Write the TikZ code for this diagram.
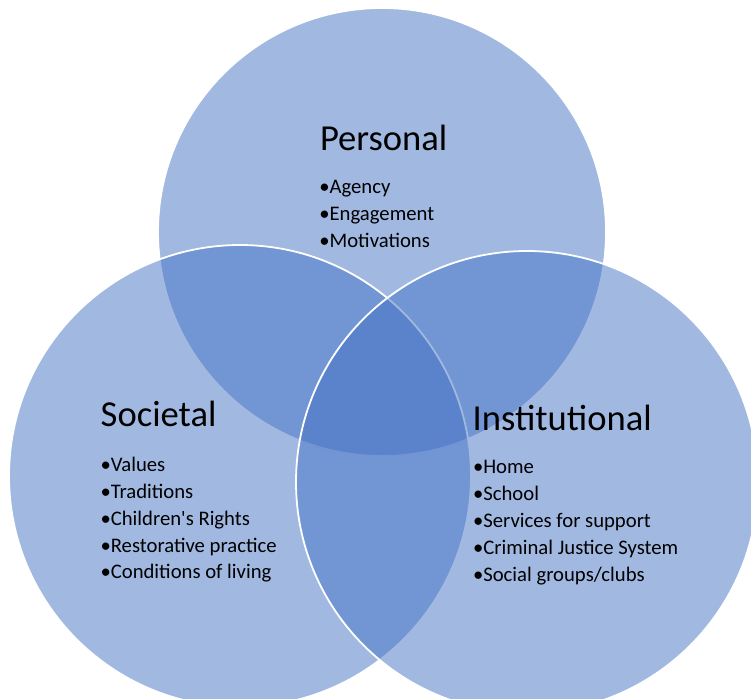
\documentclass[tikz,border=0pt]{standalone}
\usepackage{fontspec}
\setmainfont{Carlito}
\definecolor{vennblue}{HTML}{4472C4}

\begin{document}
\begin{tikzpicture}[x=1pt, y=-1pt]
\tikzstyle{every node} = [inner sep=0, outer sep=0]
\tikzstyle{venn} = [circle, draw=white, line width=1.8, fill=vennblue, fill opacity=0.5]
\tikzstyle{head} = [anchor=base west, font=\fontsize{36.6}{44}\selectfont]
\tikzstyle{item} = [anchor=base west, font=\fontsize{20.7}{25}\selectfont]
\clip (0,0) rectangle (751,698);
% circles, top first, then left, then right
\node[venn, minimum size=448] (personal) at (382.000, 232.000) {};
\node[venn, minimum size=462] (societal) at (240.000, 476.000) {};
\node[venn, minimum size=462] (institutional) at (527.000, 482.000) {};
% personal
\node[head] (personal_h) at (320.000, 150.000) {Personal};
\node[item] (personal_1) at (319.300, 193.500) {•Agency};
\node[item] (personal_2) at (319.300, 220.500) {•Engagement};
\node[item] (personal_3) at (319.300, 247.500) {•Motivations};
% societal
\node[head] (societal_h) at (100.700, 426.500) {Societal};
\node[item] (societal_1) at (100.500, 471.500) {•Values};
\node[item] (societal_2) at (100.500, 498.300) {•Traditions};
\node[item] (societal_3) at (100.500, 525.000) {•Children\textquotesingle s Rights};
\node[item] (societal_4) at (100.500, 552.000) {•Restorative practice};
\node[item] (societal_5) at (100.500, 578.500) {•Conditions of living};
% institutional
\node[head] (institutional_h) at (472.700, 430.000) {Institutional};
\node[item] (institutional_1) at (473.000, 473.500) {•Home};
\node[item] (institutional_2) at (473.000, 500.500) {•School};
\node[item] (institutional_3) at (473.000, 527.500) {•Services for support};
\node[item] (institutional_4) at (473.000, 554.300) {•Criminal Justice System};
\node[item] (institutional_5) at (473.000, 581.000) {•Social groups/clubs};
\end{tikzpicture}
\end{document}
